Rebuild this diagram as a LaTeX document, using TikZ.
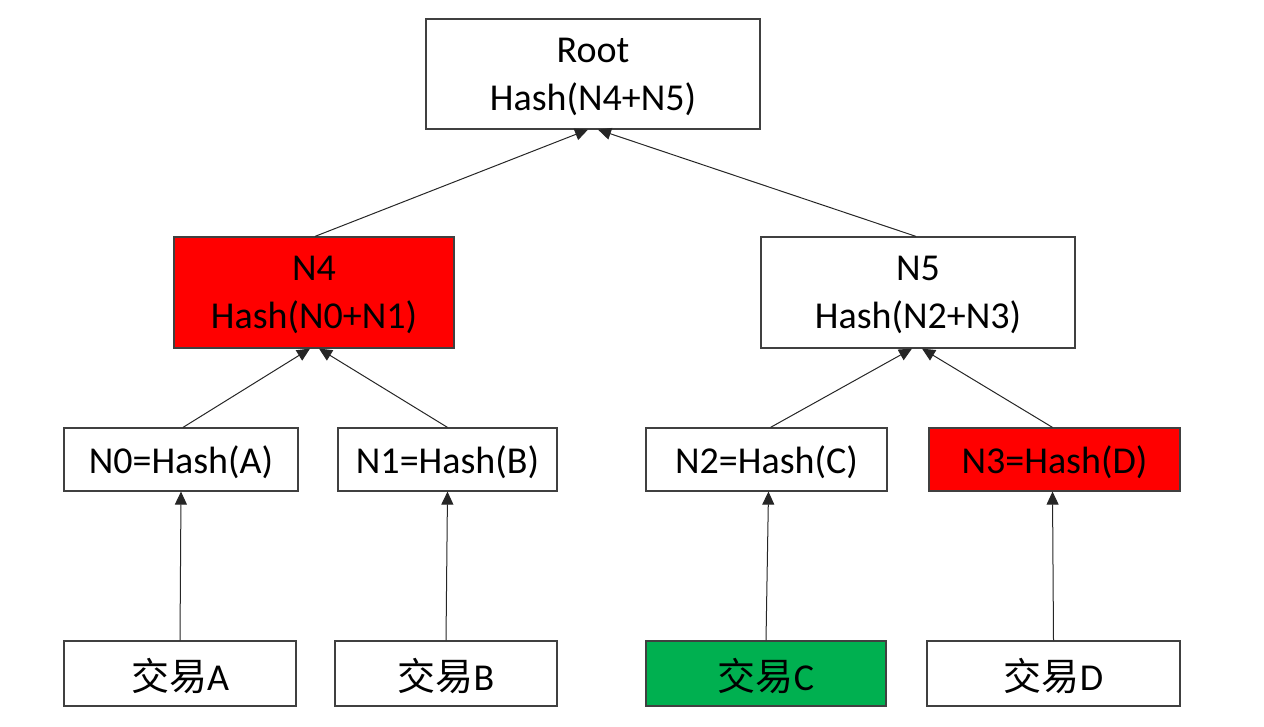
\documentclass[tikz,border=0pt]{standalone}
\usepackage{fontspec}
\setmainfont{Carlito}
\newfontfamily\cjk{Noto Sans CJK SC}
\usetikzlibrary{arrows.meta}
\definecolor{boxgray}{HTML}{404040}
\definecolor{linegray}{HTML}{262626}
\definecolor{hired}{HTML}{FF0000}
\definecolor{higreen}{HTML}{00B050}
\begin{document}
\begin{tikzpicture}[x=1pt,y=-1pt,
  box/.style={draw=boxgray, line width=1.2pt, inner sep=0pt},
  lbl/.style={align=center, text=black, inner sep=0pt, yshift=-2.5pt,
    font=\fontsize{38}{48}\selectfont},
  txt/.style={label={[lbl]center:#1}},
  arr/.style={draw=linegray, line width=1pt, -{Triangle[length=13pt,width=12pt]}}]
\useasboundingbox (0,0) rectangle (1264,726);

\node[box, minimum width=334pt, minimum height=110pt, txt={Root\\Hash(N4+N5)}] (root) at (593,74) {};
\node[box, fill=hired, minimum width=280pt, minimum height=111pt, txt={N4\\Hash(N0+N1)}] (n4) at (314,292.5) {};
\node[box, minimum width=314pt, minimum height=111pt, txt={N5\\Hash(N2+N3)}] (n5) at (918,292.5) {};

\node[box, minimum width=234pt, minimum height=63pt, txt={N0=Hash(A)}] (n0) at (181,459.5) {};
\node[box, minimum width=219pt, minimum height=63pt, txt={N1=Hash(B)}] (n1) at (447.5,459.5) {};
\node[box, minimum width=241pt, minimum height=63pt, txt={N2=Hash(C)}] (n2) at (766.5,459.5) {};
\node[box, fill=hired, minimum width=251pt, minimum height=63pt, txt={N3=Hash(D)}] (n3) at (1054.5,459.5) {};

\node[box, minimum width=232pt, minimum height=65pt, txt={{\cjk 交易}A}] (ta) at (180,673.5) {};
\node[box, minimum width=222pt, minimum height=65pt, txt={{\cjk 交易}B}] (tb) at (446,673.5) {};
\node[box, fill=higreen, minimum width=240pt, minimum height=65pt, txt={{\cjk 交易}C}] (tc) at (766,673.5) {};
\node[box, minimum width=253pt, minimum height=65pt, txt={{\cjk 交易}D}] (td) at (1053.5,673.5) {};

\draw[arr] ([xshift=1pt]n4.north) -- ([xshift=-5pt]root.south);
\draw[arr] ([xshift=-2pt]n5.north) -- ([xshift=5pt]root.south);
\draw[arr] ([xshift=2pt]n0.north) -- ([xshift=-4pt]n4.south);
\draw[arr] ([xshift=0pt]n1.north) -- ([xshift=5pt]n4.south);
\draw[arr] ([xshift=4pt]n2.north) -- ([xshift=-6pt]n5.south);
\draw[arr] ([xshift=-2pt]n3.north) -- ([xshift=4pt]n5.south);

\draw[arr] (ta.north) -- ([xshift=0pt]n0.south);
\draw[arr] (tb.north) -- ([xshift=0pt]n1.south);
\draw[arr] (tc.north) -- ([xshift=2pt]n2.south);
\draw[arr] (td.north) -- ([xshift=-2pt]n3.south);
\end{tikzpicture}
\end{document}
